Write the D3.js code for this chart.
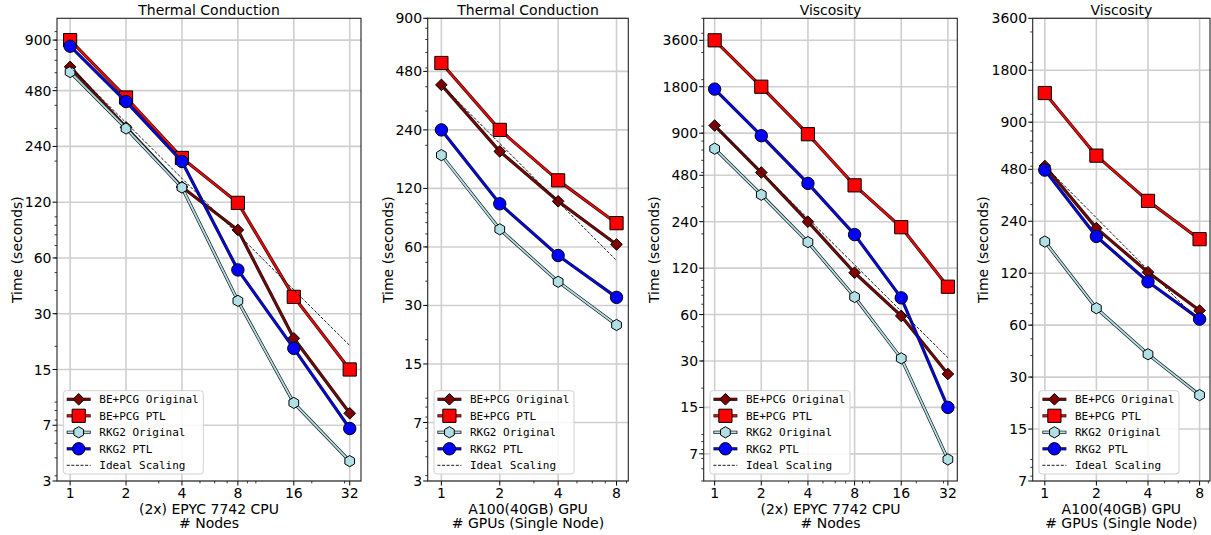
<!DOCTYPE html>
<html><head><meta charset="utf-8">
<script src="https://cdn.jsdelivr.net/npm/d3@7"></script>
<style>
html,body{margin:0;padding:0;background:#fff;}
svg{display:block;}
text{font-family:"DejaVu Sans",sans-serif;fill:#000;}
</style></head>
<body>
<svg id="chart" width="1211" height="535"></svg>
<script>
// ---- data ----
const cpuNodes = [1, 2, 4, 8, 16, 32];
const gpuCount = [1, 2, 4, 8];
const seriesNames = ["BE+PCG Original", "BE+PCG PTL", "RKG2 Original", "RKG2 PTL", "Ideal Scaling"];

// Panel 1: Thermal Conduction, CPU
const tcCpuBeOrig = [645, 304, 145, 85, 22.1, 8.7];
const tcCpuBePTL  = [900, 441, 208, 119, 37, 15];
const tcCpuRkOrig = [605, 300, 144, 35.2, 9.9, 4.8];
const tcCpuRkPTL  = [834, 419, 199, 51.7, 19.5, 7.2];
const tcCpuIdeal  = [645, 322.5, 161.3, 80.6, 40.3, 20.2];

// Panel 2: Thermal Conduction, GPU
const tcGpuBeOrig = [409, 186, 103, 61.8];
const tcGpuBePTL  = [530, 240, 132, 79.5];
const tcGpuRkOrig = [178, 73.9, 39.7, 23.8];
const tcGpuRkPTL  = [240, 100, 54.2, 33];
const tcGpuIdeal  = [409, 204.5, 102.3, 51.1];

// Panel 3: Viscosity, CPU
const viCpuBeOrig = [1008, 500, 240, 112, 58.8, 24.7];
const viCpuBePTL  = [3600, 1800, 886, 413, 221, 90.9];
const viCpuRkOrig = [714, 359, 177, 78, 31.2, 6.9];
const viCpuRkPTL  = [1737, 866, 425, 198, 77, 15];
const viCpuIdeal  = [1008, 504, 252, 126, 63, 31.5];

// Panel 4: Viscosity, GPU
const viGpuBeOrig = [502, 219, 121.6, 72.9];
const viGpuBePTL  = [1328, 576, 315, 189];
const viGpuRkOrig = [183, 75.2, 40.7, 23.6];
const viGpuRkPTL  = [475, 196, 107, 65];
const viGpuIdeal  = [502, 251, 125.5, 62.8];

// tick labels
const tcYTickVals = [3.75, 7.5, 15, 30, 60, 120, 240, 480, 900];
const tcYTickLabels = ["3", "7", "15", "30", "60", "120", "240", "480", "900"];
const viYTickVals = [7.5, 15, 30, 60, 120, 240, 480, 900, 1800, 3600];
const viYTickLabels = ["7", "15", "30", "60", "120", "240", "480", "900", "1800", "3600"];

const titles = ["Thermal Conduction", "Thermal Conduction", "Viscosity", "Viscosity"];
const xLabel1 = ["(2x) EPYC 7742 CPU", "A100(40GB) GPU", "(2x) EPYC 7742 CPU", "A100(40GB) GPU"];
const xLabel2 = ["# Nodes", "# GPUs (Single Node)", "# Nodes", "# GPUs (Single Node)"];

// ---- layout / style ----
const yTop = 18.3, yBottom = 481;
const panels = [
  {x0: 57,    x1: 361,    xs: cpuNodes, yDom: [3.75, 1180], yt: tcYTickVals, yl: tcYTickLabels, ylabOff: 40,
   data: [tcCpuBeOrig, tcCpuBePTL, tcCpuRkOrig, tcCpuRkPTL, tcCpuIdeal]},
  {x0: 427.7, x1: 628.3,  xs: gpuCount, yDom: [3.75, 900], yt: tcYTickVals, yl: tcYTickLabels, ylabOff: 40,
   data: [tcGpuBeOrig, tcGpuBePTL, tcGpuRkOrig, tcGpuRkPTL, tcGpuIdeal]},
  {x0: 703.7, x1: 957.3,  xs: cpuNodes, yDom: [5, 5000], yt: viYTickVals, yl: viYTickLabels, ylabOff: 50,
   data: [viCpuBeOrig, viCpuBePTL, viCpuRkOrig, viCpuRkPTL, viCpuIdeal]},
  {x0: 1032.7, x1: 1210,  xs: gpuCount, yDom: [7.5, 3600], yt: viYTickVals, yl: viYTickLabels, ylabOff: 50,
   data: [viGpuBeOrig, viGpuBePTL, viGpuRkOrig, viGpuRkPTL, viGpuIdeal]}
];
const styles = [
  {color: "#800000", marker: "diamond", size: 5.8},
  {color: "#ff0000", marker: "square", size: 6.6},
  {color: "#b0e0e6", marker: "hexagon", size: 5.6},
  {color: "#0000ff", marker: "circle", size: 6.2},
  {color: "#000000", marker: null}
];

function markerPath(type, r) {
  if (type === "square") return `M${-r},${-r}H${r}V${r}H${-r}Z`;
  if (type === "diamond") return `M0,${-r}L${r},0L0,${r}L${-r},0Z`;
  if (type === "hexagon") {
    let p = [];
    for (let i = 0; i < 6; i++) {
      const a = Math.PI / 2 + i * Math.PI / 3;
      p.push([r * Math.cos(a), -r * Math.sin(a)]);
    }
    return "M" + p.map(d => d[0].toFixed(2) + "," + d[1].toFixed(2)).join("L") + "Z";
  }
  if (type === "circle") return `M${r},0A${r},${r} 0 1,1 ${-r},0A${r},${r} 0 1,1 ${r},0Z`;
  return "";
}

const svg = d3.select("#chart");

panels.forEach((P, pi) => {
  const maxX = d3.max(P.xs);
  const x = d3.scaleLog().base(2).domain([0.85, maxX * 1.15]).range([P.x0, P.x1]);
  const y = d3.scaleLog().domain(P.yDom).range([yBottom, yTop]);
  const g = svg.append("g");

  // grid
  g.selectAll(".gx").data(P.xs).enter().append("line")
    .attr("x1", d => x(d)).attr("x2", d => x(d)).attr("y1", yTop).attr("y2", yBottom)
    .attr("stroke", "#cfcfcf").attr("stroke-width", 1.6);
  g.selectAll(".gy").data(P.yt).enter().append("line")
    .attr("y1", d => y(d)).attr("y2", d => y(d)).attr("x1", P.x0).attr("x2", P.x1)
    .attr("stroke", "#cfcfcf").attr("stroke-width", 1.6);

  // clip
  const clipId = "clip" + pi;
  svg.append("clipPath").attr("id", clipId).append("rect")
    .attr("x", P.x0 - 10).attr("y", yTop - 10).attr("width", P.x1 - P.x0 + 20).attr("height", yBottom - yTop + 20);

  const line = d3.line().x(d => x(d[0])).y(d => y(d[1]));
  const plot = g.append("g").attr("clip-path", `url(#${clipId})`);

  P.data.forEach((vals, si) => {
    const st = styles[si];
    const pts = P.xs.map((xv, i) => [xv, vals[i]]);
    if (st.marker === null) {
      plot.append("path").attr("d", line(pts)).attr("fill", "none")
        .attr("stroke", "#000").attr("stroke-width", 0.9).attr("stroke-dasharray", "3,1.6");
      return;
    }
    plot.append("path").attr("d", line(pts)).attr("fill", "none")
      .attr("stroke", "#1a1a1a").attr("stroke-width", 3.2).attr("stroke-linejoin", "round");
    plot.append("path").attr("d", line(pts)).attr("fill", "none")
      .attr("stroke", st.color).attr("stroke-width", 1.8).attr("stroke-linejoin", "round");
    plot.selectAll(null).data(pts).enter().append("path")
      .attr("d", markerPath(st.marker, st.size))
      .attr("transform", d => `translate(${x(d[0])},${y(d[1])})`)
      .attr("fill", st.color).attr("stroke", "#000").attr("stroke-width", 1);
  });

  // minor ticks y
  const minorY = [];
  for (let e = -1; e <= 4; e++) for (let m = 1; m <= 9; m++) {
    const v = m * Math.pow(10, e);
    if (v >= P.yDom[0] && v <= P.yDom[1]) minorY.push(v);
  }
  g.selectAll(".my").data(minorY).enter().append("line")
    .attr("x1", P.x0 - 2.4).attr("x2", P.x0).attr("y1", d => y(d)).attr("y2", d => y(d))
    .attr("stroke", "#000").attr("stroke-width", 0.8);
  const minorX = [];
  for (let e = 0; e <= 2; e++) for (let m = 1; m <= 9; m++) {
    const v = m * Math.pow(10, e);
    if (v >= 0.85 && v <= maxX * 1.15 && !P.xs.includes(v)) minorX.push(v);
  }
  g.selectAll(".mx").data(minorX).enter().append("line")
    .attr("x1", d => x(d)).attr("x2", d => x(d)).attr("y1", yBottom).attr("y2", yBottom + 2.4)
    .attr("stroke", "#000").attr("stroke-width", 0.8);

  // major ticks
  g.selectAll(".ty").data(P.yt).enter().append("line")
    .attr("x1", P.x0 - 4.5).attr("x2", P.x0).attr("y1", d => y(d)).attr("y2", d => y(d))
    .attr("stroke", "#000").attr("stroke-width", 1);
  g.selectAll(".tyl").data(P.yt).enter().append("text")
    .attr("x", P.x0 - 5.5).attr("y", d => y(d)).attr("dy", "0.36em")
    .attr("text-anchor", "end").attr("font-size", 14)
    .text((d, i) => P.yl[i]);
  g.selectAll(".tx").data(P.xs).enter().append("line")
    .attr("x1", d => x(d)).attr("x2", d => x(d)).attr("y1", yBottom).attr("y2", yBottom + 4.5)
    .attr("stroke", "#000").attr("stroke-width", 1);
  g.selectAll(".txl").data(P.xs).enter().append("text")
    .attr("x", d => x(d)).attr("y", 498).attr("text-anchor", "middle").attr("font-size", 14)
    .text(d => d);

  // frame
  g.append("rect").attr("x", P.x0).attr("y", yTop).attr("width", P.x1 - P.x0).attr("height", yBottom - yTop)
    .attr("fill", "none").attr("stroke", "#222").attr("stroke-width", 1.1);

  // labels
  const cx = (P.x0 + P.x1) / 2;
  g.append("text").attr("x", cx).attr("y", 15).attr("text-anchor", "middle").attr("font-size", 14).text(titles[pi]);
  g.append("text").attr("x", cx).attr("y", 514).attr("text-anchor", "middle").attr("font-size", 14).text(xLabel1[pi]);
  g.append("text").attr("x", cx).attr("y", 528).attr("text-anchor", "middle").attr("font-size", 14).text(xLabel2[pi]);
  const ly = (yTop + yBottom) / 2;
  g.append("text").attr("transform", `translate(${P.x0 - P.ylabOff + 5},${ly}) rotate(-90)`)
    .attr("text-anchor", "middle").attr("font-size", 14).text("Time (seconds)");

  // legend
  const lx = P.x0 + 6.3, lyTop = 390.7, lw = 140, lh = 83.3;
  const leg = g.append("g");
  leg.append("rect").attr("x", lx).attr("y", lyTop).attr("width", lw).attr("height", lh)
    .attr("rx", 3).attr("fill", "#fff").attr("fill-opacity", 0.85)
    .attr("stroke", "#d0d0d0").attr("stroke-width", 1);
  seriesNames.forEach((name, si) => {
    const st = styles[si];
    const ry = 399.3 + si * 16.5;
    const l0 = lx + 3.4, l1 = lx + 27.4, mc = lx + 15.4;
    if (st.marker === null) {
      leg.append("line").attr("x1", l0).attr("x2", l1).attr("y1", ry).attr("y2", ry)
        .attr("stroke", "#000").attr("stroke-width", 0.9).attr("stroke-dasharray", "3,1.6");
    } else {
      leg.append("line").attr("x1", l0).attr("x2", l1).attr("y1", ry).attr("y2", ry)
        .attr("stroke", "#1a1a1a").attr("stroke-width", 3.2);
      leg.append("line").attr("x1", l0 + 0.8).attr("x2", l1 - 0.8).attr("y1", ry).attr("y2", ry)
        .attr("stroke", st.color).attr("stroke-width", 1.8);
      leg.append("path").attr("d", markerPath(st.marker, st.size))
        .attr("transform", `translate(${mc},${ry})`)
        .attr("fill", st.color).attr("stroke", "#000").attr("stroke-width", 1);
    }
    leg.append("text").attr("x", lx + 36).attr("y", ry).attr("dy", "0.36em")
      .attr("font-size", 11).style("font-family", "'DejaVu Sans Mono', monospace").text(name);
  });
});
</script>
</body></html>
